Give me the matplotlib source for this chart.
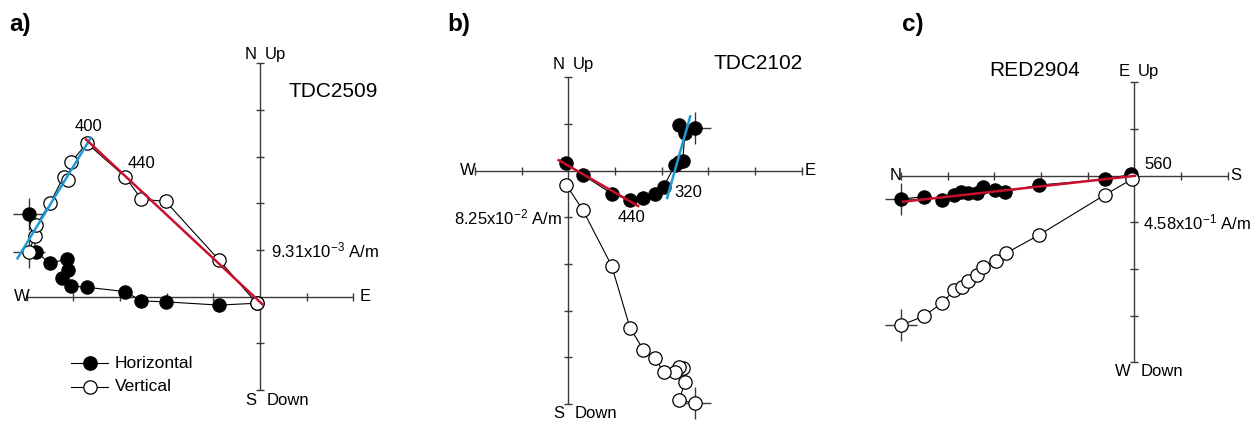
import matplotlib
matplotlib.use("Agg")
import matplotlib.pyplot as plt

plt.rcParams["font.family"] = ["Liberation Sans", "DejaVu Sans"]
plt.rcParams["mathtext.fontset"] = "custom"
plt.rcParams["mathtext.rm"] = "Liberation Sans"
plt.rcParams["mathtext.it"] = "Liberation Sans:italic"

# ---------------- data (in units of one axis tick) ----------------
# a) TDC2509
a_h_x = [-4.96, -4.79, -4.51, -4.14, -4.11, -4.25, -4.04, -3.70, -2.89, -2.54, -2.02, -0.88, -0.07]
a_h_y = [1.77, 0.96, 0.72, 0.80, 0.57, 0.39, 0.23, 0.20, 0.11, -0.09, -0.11, -0.18, -0.14]
a_v_x = [-4.96, -4.82, -4.79, -4.50, -4.21, -4.11, -4.04, -3.71, -2.89, -2.54, -2.02, -0.88, -0.07]
a_v_y = [0.96, 1.29, 1.54, 2.00, 2.57, 2.50, 2.89, 3.29, 2.57, 2.09, 2.04, 0.79, -0.14]
a_fit_blue = ([-5.21, -3.61], [0.80, 3.43])
a_fit_red = ([-3.75, 0.07], [3.39, -0.18])

# b) TDC2102
b_h_x = [2.71, 2.38, 2.50, 2.45, 2.38, 2.29, 2.04, 1.86, 1.61, 1.32, 0.93, 0.31, -0.04]
b_h_y = [0.91, 0.98, 0.81, 0.21, 0.18, 0.12, -0.34, -0.49, -0.59, -0.63, -0.49, -0.09, 0.16]
b_v_x = [2.71, 2.38, 2.50, 2.45, 2.38, 2.29, 2.04, 1.86, 1.61, 1.32, 0.93, 0.31, -0.04]
b_v_y = [-4.98, -4.91, -4.52, -4.23, -4.20, -4.31, -4.31, -4.02, -3.84, -3.36, -2.04, -0.84, -0.31]
b_fit_blue = ([2.11, 2.62], [-0.61, 1.19])
b_fit_red = ([-0.23, 1.52], [0.24, -0.77])

# c) RED2904
c_h_x = [-4.99, -4.51, -4.11, -3.86, -3.71, -3.56, -3.38, -3.25, -2.99, -2.77, -2.04, -0.63, -0.06]
c_h_y = [-0.50, -0.45, -0.51, -0.41, -0.34, -0.38, -0.38, -0.25, -0.31, -0.34, -0.20, -0.08, 0.03]
c_v_x = [-4.99, -4.51, -4.11, -3.86, -3.70, -3.57, -3.36, -3.25, -2.96, -2.75, -2.04, -0.63, -0.04]
c_v_y = [-3.20, -3.01, -2.72, -2.45, -2.38, -2.25, -2.13, -1.96, -1.82, -1.66, -1.27, -0.41, -0.07]
c_fit_red = ([-4.98, 0.04], [-0.56, 0.00])

# ---------------- figure ----------------
W, H, DPI = 1260, 423, 100
fig = plt.figure(figsize=(W / DPI, H / DPI), dpi=DPI)
UNIT = 46.67  # pixels per tick

AXCOL = "#3a3a3a"
RED = "#c8102e"
BLUE = "#1e9bd7"
MS = 9.6
FS = 12
TFS = 15


def make_axes(px0, px1, ox, oy):
    ax = fig.add_axes([px0 / W, 0, (px1 - px0) / W, 1])
    ax.set_xlim((px0 - ox) / UNIT, (px1 - ox) / UNIT)
    ax.set_ylim((oy - H) / UNIT, oy / UNIT)
    ax.axis("off")
    return ax


def draw_cross(ax, xmin, xmax, ymin, ymax):
    kw = dict(color=AXCOL, lw=1.0, zorder=1, solid_capstyle="butt")
    ax.plot([xmin, xmax], [0, 0], **kw)
    ax.plot([0, 0], [ymin, ymax], **kw)
    t = 0.085
    for i in range(int(round(xmin)), int(round(xmax)) + 1):
        if i != 0:
            ax.plot([i, i], [-t, t], **kw)
    for j in range(int(round(ymin)), int(round(ymax)) + 1):
        if j != 0:
            ax.plot([-t, t], [j, j], **kw)


def draw_series(ax, hx, hy, vx, vy):
    # NRM cross marks behind the first points
    ax.plot([hx[0]], [hy[0]], marker="+", ms=23, mew=1.0, color=AXCOL, ls="none", zorder=2)
    ax.plot([vx[0]], [vy[0]], marker="+", ms=23, mew=1.0, color=AXCOL, ls="none", zorder=2)
    ax.plot(hx, hy, "-", color="black", lw=0.8, marker="o", ms=MS,
            mfc="black", mec="black", mew=0.8, zorder=3)
    ax.plot(vx, vy, "-", color="black", lw=0.8, marker="o", ms=MS,
            mfc="white", mec="black", mew=0.9, zorder=4)


def fit(ax, line, color):
    ax.plot(line[0], line[1], color=color, lw=1.8, zorder=6, solid_capstyle="butt")


def scale_label(ax, x, y, mant, exp, ha):
    ax.text(x, y, mant + r"x10$^{\mathregular{%s}}$ A/m" % exp, ha=ha, va="center", fontsize=FS)


# ---- a) ----
ax = make_axes(0, 420, 260.0, 296.7)
draw_cross(ax, -5, 2, -2, 5)
draw_series(ax, a_h_x, a_h_y, a_v_x, a_v_y)
fit(ax, a_fit_blue, BLUE)
fit(ax, a_fit_red, RED)
ax.text(-0.08, 5.2, "N", ha="right", va="center", fontsize=FS)
ax.text(0.1, 5.2, "Up", ha="left", va="center", fontsize=FS)
ax.text(-0.08, -2.22, "S", ha="right", va="center", fontsize=FS)
ax.text(0.14, -2.22, "Down", ha="left", va="center", fontsize=FS)
ax.text(-4.93, 0, "W", ha="right", va="center", fontsize=FS)
ax.text(2.13, 0, "E", ha="left", va="center", fontsize=FS)
scale_label(ax, 0.23, 1.0, "9.31", "-3", "left")
ax.text(1.57, 4.39, "TDC2509", ha="center", va="center", fontsize=TFS)
ax.text(-3.68, 3.64, "400", ha="center", va="center", fontsize=FS)
ax.text(-2.54, 2.86, "440", ha="center", va="center", fontsize=FS)
# legend
ax.plot([-4.04, -3.25], [-1.43, -1.43], "-", color="black", lw=0.8)
ax.plot([-3.64], [-1.43], "o", ms=MS, mfc="black", mec="black")
ax.text(-3.11, -1.43, "Horizontal", ha="left", va="center", fontsize=12.5)
ax.plot([-4.04, -3.25], [-1.93, -1.93], "-", color="black", lw=0.8)
ax.plot([-3.64], [-1.93], "o", ms=MS, mfc="white", mec="black", mew=0.9)
ax.text(-3.11, -1.93, "Vertical", ha="left", va="center", fontsize=12.5)

# ---- b) ----
ax = make_axes(420, 850, 568.3, 170.7)
draw_cross(ax, -2, 5, -5, 2)
draw_series(ax, b_h_x, b_h_y, b_v_x, b_v_y)
fit(ax, b_fit_blue, BLUE)
fit(ax, b_fit_red, RED)
ax.text(-0.08, 2.27, "N", ha="right", va="center", fontsize=FS)
ax.text(0.1, 2.27, "Up", ha="left", va="center", fontsize=FS)
ax.text(-0.08, -5.2, "S", ha="right", va="center", fontsize=FS)
ax.text(0.14, -5.2, "Down", ha="left", va="center", fontsize=FS)
ax.text(-1.98, 0, "W", ha="right", va="center", fontsize=FS)
ax.text(5.07, 0, "E", ha="left", va="center", fontsize=FS)
scale_label(ax, -0.14, -1.0, "8.25", "-2", "right")
ax.text(4.07, 2.3, "TDC2102", ha="center", va="center", fontsize=TFS)
ax.text(2.57, -0.47, "320", ha="center", va="center", fontsize=FS)
ax.text(1.36, -1.0, "440", ha="center", va="center", fontsize=FS)

# ---- c) ----
ax = make_axes(850, 1260, 1134.3, 175.7)
draw_cross(ax, -5, 2, -4, 2)
draw_series(ax, c_h_x, c_h_y, c_v_x, c_v_y)
fit(ax, c_fit_red, RED)
ax.text(-0.1, 2.23, "E", ha="right", va="center", fontsize=FS)
ax.text(0.08, 2.23, "Up", ha="left", va="center", fontsize=FS)
ax.text(-0.08, -4.2, "W", ha="right", va="center", fontsize=FS)
ax.text(0.14, -4.2, "Down", ha="left", va="center", fontsize=FS)
ax.text(-4.98, 0, "N", ha="right", va="center", fontsize=FS)
ax.text(2.05, 0, "S", ha="left", va="center", fontsize=FS)
scale_label(ax, 0.19, -1.0, "4.58", "-1", "left")
ax.text(-2.13, 2.26, "RED2904", ha="center", va="center", fontsize=TFS)
ax.text(0.51, 0.23, "560", ha="center", va="center", fontsize=FS)

# panel letters
for x_px, lab in [(9, "a)"), (447, "b)"), (902, "c)")]:
    fig.text(x_px / W, 1 - 24 / H, lab, ha="left", va="center",
             fontsize=17.5, fontweight="bold")

fig.savefig("out.png", dpi=DPI)
